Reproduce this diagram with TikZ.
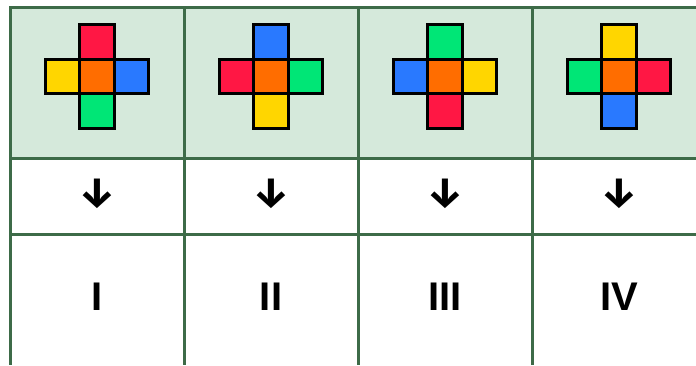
\documentclass[tikz,border=0pt]{standalone}
\usepackage{fontspec}
\setmainfont{DejaVu Sans}
\newfontfamily\labelfont{Liberation Sans}
\newfontfamily\arrowfont{Fira Sans}
\usetikzlibrary{positioning}

\definecolor{gridgreen}{HTML}{3D6B48}
\definecolor{headgreen}{HTML}{D5E9DB}
\definecolor{rose}{HTML}{FF1744}
\definecolor{tangerine}{HTML}{FF6D00}
\definecolor{sky}{HTML}{2979FF}
\definecolor{sun}{HTML}{FFD600}
\definecolor{mint}{HTML}{00E676}

\begin{document}
\begin{tikzpicture}[
  x=1pt, y=-1pt,
  cell/.style={rectangle, draw=black, line width=3pt, minimum size=34.5pt, inner sep=0pt, outer sep=0pt},
  gridline/.style={draw=gridgreen, line width=3pt},
  downsign/.style={font=\arrowfont\bfseries\fontsize{42}{42}\selectfont, inner sep=0pt},
  numeral/.style={font=\labelfont\bfseries\fontsize{40}{40}\selectfont, inner sep=0pt},
]
  \useasboundingbox (0,0) rectangle (696,365);

  % header band
  \fill[headgreen] (10,7) rectangle (696,158);

  % table rules
  \draw[gridline] (696,7) -- (10,7) -- (10,365);
  \draw[gridline] (10,158) -- (696,158);
  \draw[gridline] (10,234) -- (696,234);
  \foreach \x in {184,358,532} \draw[gridline] (\x,7) -- (\x,365);

  % crosses, arrows and numerals
  \foreach \i/\up/\lf/\rt/\dn/\rn in {1/rose/sun/sky/mint/I, 2/sky/rose/mint/sun/II, 3/mint/sky/sun/rose/III, 4/sun/mint/rose/sky/IV} {
    \node[cell, fill=tangerine] (mid\i) at ({97+174*(\i-1)},76.5) {};
    \node[cell, fill=\up, above=0pt of mid\i] (up\i) {};
    \node[cell, fill=\lf, left=0pt of mid\i] (lf\i) {};
    \node[cell, fill=\rt, right=0pt of mid\i] (rt\i) {};
    \node[cell, fill=\dn, below=0pt of mid\i] (dn\i) {};
    \node[downsign] (arr\i) at ({97.5+174*(\i-1)},194) {↓};
    \node[numeral] (num\i) at ({97+174*(\i-1)},296.5) {\rn};
  }
\end{tikzpicture}
\end{document}
